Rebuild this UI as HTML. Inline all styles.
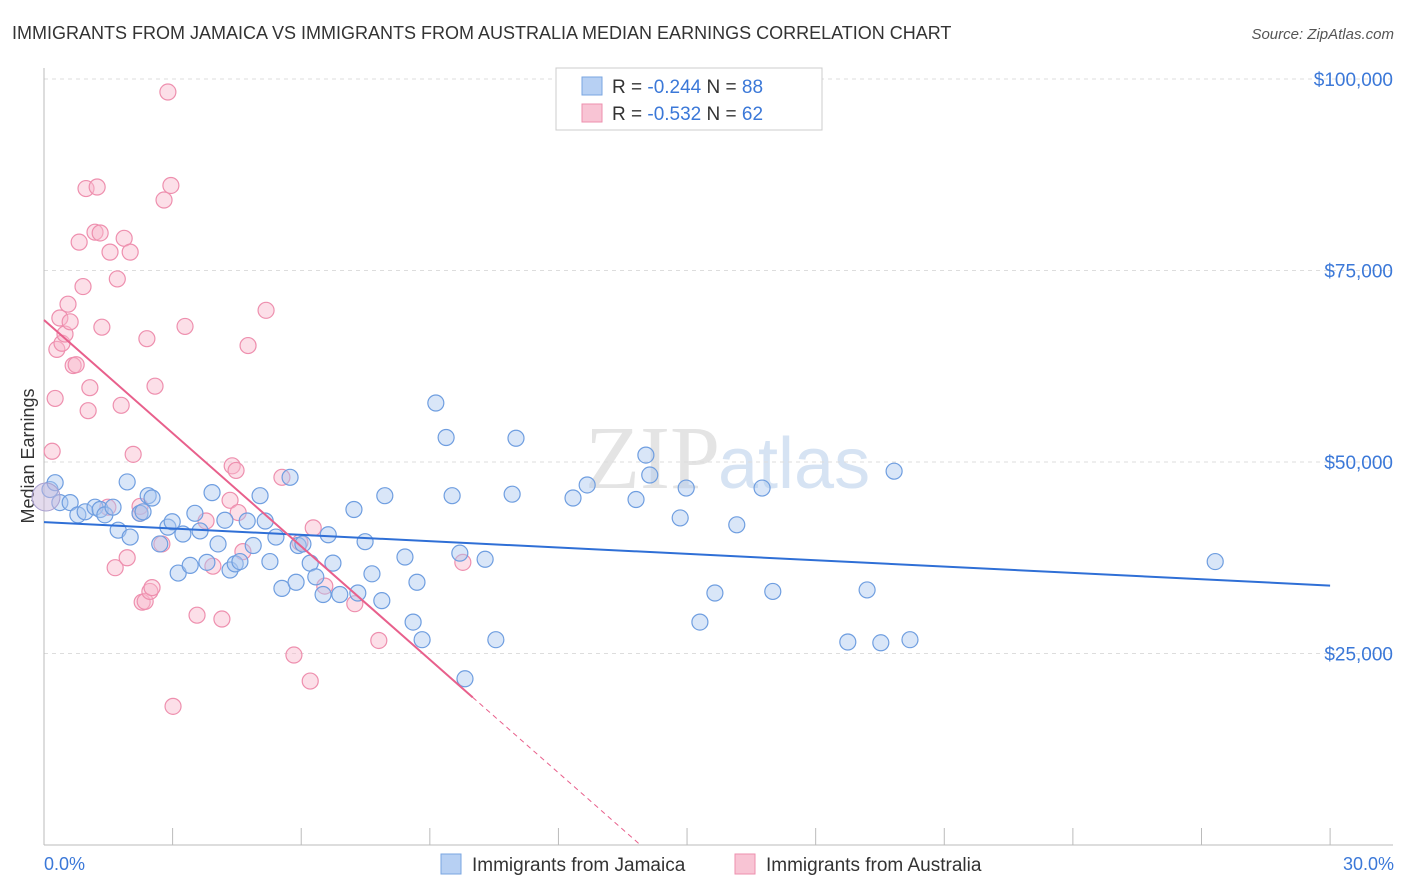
<!DOCTYPE html>
<html><head><meta charset="utf-8"><style>
body{margin:0;background:#fff;font-family:"Liberation Sans",sans-serif;}
svg{display:block}
</style></head><body>
<svg id="chart" width="1406" height="892" xmlns="http://www.w3.org/2000/svg">
<text x="12" y="39" font-size="18" fill="#333">IMMIGRANTS FROM JAMAICA VS IMMIGRANTS FROM AUSTRALIA MEDIAN EARNINGS CORRELATION CHART</text>
<text x="1394" y="39" font-size="15" fill="#555" font-style="italic" text-anchor="end">Source: ZipAtlas.com</text>
<text x="34" y="456" font-size="18" fill="#333" transform="rotate(-90 34 456)" text-anchor="middle">Median Earnings</text>
<text x="720" y="488" font-size="90" fill="#e4e4e4" text-anchor="end" font-family="Liberation Serif,serif">ZIP</text>
<text x="718" y="488" font-size="72" fill="#d6e3f3">atlas</text>
<g id="grid"></g><g id="pts"></g><g id="lines"></g>
<g>
<rect x="556" y="68" width="266" height="62" fill="#fff" stroke="#ccc"/>
<rect x="582" y="77" width="20" height="18" fill="#b7d0f3" stroke="#7aa6e0"/>
<rect x="582" y="104" width="20" height="18" fill="#f8c4d4" stroke="#ee8fae"/>
<text x="612" y="93" font-size="19" fill="#333">R = <tspan fill="#3b78d8">-0.244</tspan>   N = <tspan fill="#3b78d8">88</tspan></text>
<text x="612" y="120" font-size="19" fill="#333">R = <tspan fill="#3b78d8">-0.532</tspan>   N = <tspan fill="#3b78d8">62</tspan></text>
</g>
<g>
<rect x="441" y="854" width="20" height="20" fill="#b7d0f3" stroke="#7aa6e0"/>
<text x="472" y="871" font-size="19" fill="#333">Immigrants from Jamaica</text>
<rect x="735" y="854" width="20" height="20" fill="#f8c4d4" stroke="#ee8fae"/>
<text x="766" y="871" font-size="19" fill="#333">Immigrants from Australia</text>
</g>
<text x="44" y="870" font-size="18" fill="#3b78d8">0.0%</text>
<text x="1394" y="870" font-size="18" fill="#3b78d8" text-anchor="end">30.0%</text>
</svg>
<script>
const yTicks=[25000,50000,75000,100000];
const yTickLabels=["$25,000","$50,000","$75,000","$100,000"];
const jamaicaX=[0.14,0.26,0.37,0.61,0.79,0.96,1.19,1.31,1.42,1.61,1.73,1.94,2.01,2.24,2.31,2.43,2.52,2.7,2.89,2.99,3.13,3.24,3.41,3.52,3.64,3.8,3.92,4.06,4.22,4.34,4.46,4.57,4.74,4.88,5.04,5.16,5.27,5.41,5.55,5.74,5.88,5.93,6.04,6.21,6.34,6.51,6.63,6.74,6.9,7.23,7.32,7.49,7.65,7.88,7.95,8.42,8.61,8.7,8.82,9.14,9.38,9.52,9.7,9.82,10.29,10.54,10.92,11.01,12.34,12.67,13.81,14.04,14.13,14.84,14.98,15.3,15.65,16.16,16.75,17.0,18.75,19.2,19.52,19.83,20.2,27.32];
const jamaicaY=[46400,47300,44700,44700,43100,43500,44100,43800,43100,44100,41100,47400,40200,43300,43500,45600,45300,39300,41500,42200,35500,40600,36500,43300,41000,36900,46000,39300,42400,35900,36700,37000,42300,39100,45600,42300,37000,40200,33500,48000,34300,39100,39300,36800,35000,32700,40500,36800,32700,43800,32900,39600,35400,31900,45600,37600,29100,34300,26800,57700,53200,45600,38100,21700,37300,26800,45800,53100,45300,47000,45100,50900,48300,42700,46600,29100,32900,41800,46600,33100,26500,33300,26400,48800,26800,37000];
const australiaX=[0.19,0.26,0.3,0.37,0.42,0.49,0.56,0.61,0.68,0.75,0.82,0.91,0.98,1.03,1.07,1.19,1.24,1.31,1.35,1.49,1.54,1.66,1.71,1.8,1.87,1.94,2.01,2.08,2.24,2.29,2.36,2.4,2.47,2.52,2.59,2.75,2.8,2.89,2.96,3.01,3.29,3.57,3.78,3.94,4.15,4.34,4.39,4.48,4.53,4.64,4.76,5.18,5.55,5.83,5.97,6.21,6.28,6.55,7.25,7.81,9.77,2.24];
const australiaY=[51400,58300,64700,68800,65500,66700,70600,68300,62600,62700,78700,72900,85700,56700,59700,80000,85900,79900,67600,44100,77400,36200,73900,57400,79200,37500,77400,51000,43300,31700,31800,66100,33100,33600,59900,39300,84200,98300,86100,18100,67700,30000,42300,36400,29500,45000,49500,48900,43400,38300,65200,69800,48000,24800,39500,21400,41400,33800,31500,26700,36900,44200];
const NS="http://www.w3.org/2000/svg";
const X0=44,PXPCT=42.87,Y0=845,PX25=191.5;
const xs=v=>X0+v*PXPCT, ys=v=>Y0-v/25000*PX25;
function mk(t,a){const e=document.createElementNS(NS,t);for(const k in a)e.setAttribute(k,a[k]);return e;}
const grid=document.getElementById('grid');
yTicks.forEach((t,i)=>{
 const l=mk('line',{x1:44,x2:1393,y1:ys(t),y2:ys(t),stroke:'#ddd','stroke-dasharray':'4 4'});
 
 
 grid.appendChild(l);
 const tx=mk('text',{x:1393,y:ys(t)+7,'font-size':19,fill:'#3b78d8','text-anchor':'end'});
 tx.textContent=yTickLabels[i];
 
 
 grid.appendChild(tx);
});
const ax=mk('line',{x1:44,x2:44,y1:68,y2:845,stroke:'#bbb'});


grid.appendChild(ax);
const bx=mk('line',{x1:44,x2:1393,y1:845,y2:845,stroke:'#bbb'});


grid.appendChild(bx);
for(let i=0;i<=10;i++){
 const t=mk('line',{x1:xs(i*3),x2:xs(i*3),y1:828,y2:845,stroke:'#bbb'});
 
 
 grid.appendChild(t);
}
const pts=document.getElementById('pts');
function draw(X,Y,fill,stroke,name){
 X.forEach((x,i)=>{
  const c=mk('circle',{cx:xs(x),cy:ys(Y[i]),r:8,fill:fill,'fill-opacity':0.45,stroke:stroke,'stroke-width':1.2});
  
  
  pts.appendChild(c);
 });
}
draw(australiaX,australiaY,'#f8b8cc','#ee8fae','australia-point');
draw(jamaicaX,jamaicaY,'#aac8f0','#6f9ee0','jamaica-point');
const big=mk('circle',{cx:46,cy:497,r:14,fill:'#c9b8dc','fill-opacity':0.5,stroke:'#a9a0d0'});


pts.appendChild(big);
const lines=document.getElementById('lines');
function fit(X,Y){const n=X.length;const mx=X.reduce((a,b)=>a+b)/n,my=Y.reduce((a,b)=>a+b)/n;let sxy=0,sxx=0;X.forEach((x,i)=>{sxy+=(x-mx)*(Y[i]-my);sxx+=(x-mx)**2;});const b=sxy/sxx;return[my-b*mx,b];}
const [ja,jb]=fit(jamaicaX,jamaicaY);
const jl=mk('line',{x1:xs(0),y1:ys(ja),x2:xs(30),y2:ys(ja+jb*30),stroke:'#2f6fd6','stroke-width':2});


lines.appendChild(jl);
const [aa,ab]=fit(australiaX,australiaY);
const al=mk('line',{x1:xs(0),y1:ys(aa),x2:xs(10),y2:ys(aa+ab*10),stroke:'#e8608c','stroke-width':2});


lines.appendChild(al);
const xz=-aa/ab;
const ad=mk('line',{x1:xs(10),y1:ys(aa+ab*10),x2:xs(xz),y2:ys(0),stroke:'#e8608c','stroke-width':1,'stroke-dasharray':'5 4'});


lines.appendChild(ad);
</script>
</body></html>
